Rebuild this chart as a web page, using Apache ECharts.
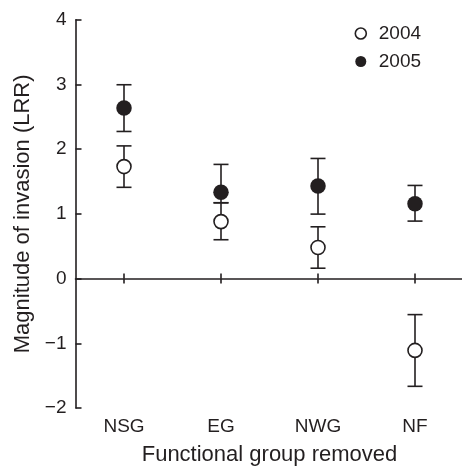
<!DOCTYPE html>
<html>
<head>
<meta charset="utf-8">
<script src="https://cdn.jsdelivr.net/npm/echarts@6/dist/echarts.min.js"></script>
<style>
  html, body { margin: 0; padding: 0; background: #fff; }
  #chart { width: 462px; height: 466px; }
</style>
</head>
<body>
<div id="chart"></div>
<script>
const categories = ['NSG', 'EG', 'NWG', 'NF'];
const mean2004 = [1.73, 0.88, 0.48, -1.11];
const low2004 = [1.41, 0.60, 0.16, -1.665];
const high2004 = [2.05, 1.17, 0.80, -0.557];
const mean2005 = [2.635, 1.335, 1.43, 1.157];
const low2005 = [2.273, 1.172, 0.996, 0.888];
const high2005 = [2.995, 1.764, 1.856, 1.439];
const yMin = -2, yMax = 4, yStep = 1;
const xTitle = 'Functional group removed';
const yTitle = 'Magnitude of invasion (LRR)';

const INK = '#231f20';
const FONT = "'Liberation Sans', Arial, sans-serif";

function errData(low, high) {
  return categories.map((c, i) => [i, low[i], high[i]]);
}
function pointData(mean) {
  return categories.map((c, i) => [i, mean[i]]);
}
function renderErr(params, api) {
  const x = api.value(0);
  const lo = api.coord([x, api.value(1)]);
  const hi = api.coord([x, api.value(2)]);
  const half = 7.5;
  const style = { stroke: INK, lineWidth: 1.6, fill: null };
  return {
    type: 'group',
    children: [
      { type: 'line', shape: { x1: lo[0], y1: lo[1], x2: hi[0], y2: hi[1] }, style: style },
      { type: 'line', shape: { x1: lo[0] - half, y1: lo[1], x2: lo[0] + half, y2: lo[1] }, style: style },
      { type: 'line', shape: { x1: hi[0] - half, y1: hi[1], x2: hi[0] + half, y2: hi[1] }, style: style }
    ]
  };
}

const chart = echarts.init(document.getElementById('chart'), null, { renderer: 'canvas' });
const baseCat = { type: 'category', data: categories, boundaryGap: true };
chart.setOption({
  animation: false,
  backgroundColor: '#fff',
  textStyle: { fontFamily: FONT, color: INK },
  grid: { left: 75.5, top: 19.7, width: 388, bottom: 58, containLabel: false, outerBoundsMode: 'none' },
  legend: {
    orient: 'vertical',
    left: 349.5,
    top: 19,
    itemWidth: 26,
    itemHeight: 11,
    itemGap: 9,
    textStyle: { fontFamily: FONT, fontSize: 19, color: INK },
    data: [
      { name: '2004', icon: 'circle', itemStyle: { color: '#fff', borderColor: INK, borderWidth: 1.6 } },
      { name: '2005', icon: 'circle', itemStyle: { color: INK, borderColor: INK, borderWidth: 0 } }
    ]
  },
  xAxis: [
    Object.assign({}, baseCat, {
      position: 'bottom',
      axisLine: { show: false, onZero: false },
      axisTick: { show: false },
      axisLabel: { margin: 9, fontSize: 19, color: INK, fontFamily: FONT },
      splitLine: { show: false },
      name: xTitle,
      nameLocation: 'middle',
      nameGap: 36,
      nameTextStyle: { fontSize: 22, color: INK, fontFamily: FONT }
    }),
    Object.assign({}, baseCat, {
      position: 'bottom',
      axisLine: { show: true, onZero: true, onZeroAxisIndex: 0, lineStyle: { color: INK, width: 1.6 } },
      axisTick: { show: true, alignWithLabel: true, length: 5, inside: false, lineStyle: { color: INK, width: 1.6 } },
      axisLabel: { show: false },
      splitLine: { show: false }
    }),
    Object.assign({}, baseCat, {
      position: 'bottom',
      axisLine: { show: false, onZero: true, onZeroAxisIndex: 0 },
      axisTick: { show: true, alignWithLabel: true, length: 5, inside: true, lineStyle: { color: INK, width: 1.6 } },
      axisLabel: { show: false },
      splitLine: { show: false }
    })
  ],
  yAxis: {
    type: 'value',
    min: yMin,
    max: yMax,
    interval: yStep,
    axisLine: { show: true, onZero: false, lineStyle: { color: INK, width: 1.6 } },
    axisTick: { show: true, inside: true, length: 6, lineStyle: { color: INK, width: 1.6 } },
    axisLabel: {
      margin: 9, fontSize: 19, color: INK, fontFamily: FONT,
      formatter: v => (v < 0 ? '\u2212' + Math.abs(v) : String(v))
    },
    splitLine: { show: false },
    name: yTitle,
    nameLocation: 'middle',
    nameGap: 42,
    nameTextStyle: { fontSize: 22, color: INK, fontFamily: FONT }
  },
  series: [
    { type: 'custom', name: 'err2004', xAxisIndex: 0, renderItem: renderErr, encode: { x: 0, y: [1, 2] }, data: errData(low2004, high2004), z: 2, silent: true },
    { type: 'custom', name: 'err2005', xAxisIndex: 0, renderItem: renderErr, encode: { x: 0, y: [1, 2] }, data: errData(low2005, high2005), z: 2, silent: true },
    { type: 'scatter', name: '2004', xAxisIndex: 0, symbol: 'circle', symbolSize: 14, data: pointData(mean2004), z: 5,
      itemStyle: { color: '#fff', borderColor: INK, borderWidth: 1.6, opacity: 1 } },
    { type: 'scatter', name: '2005', xAxisIndex: 0, symbol: 'circle', symbolSize: 15.5, data: pointData(mean2005), z: 5,
      itemStyle: { color: INK, borderWidth: 0, opacity: 1 } }
  ]
});
</script>
</body>
</html>
